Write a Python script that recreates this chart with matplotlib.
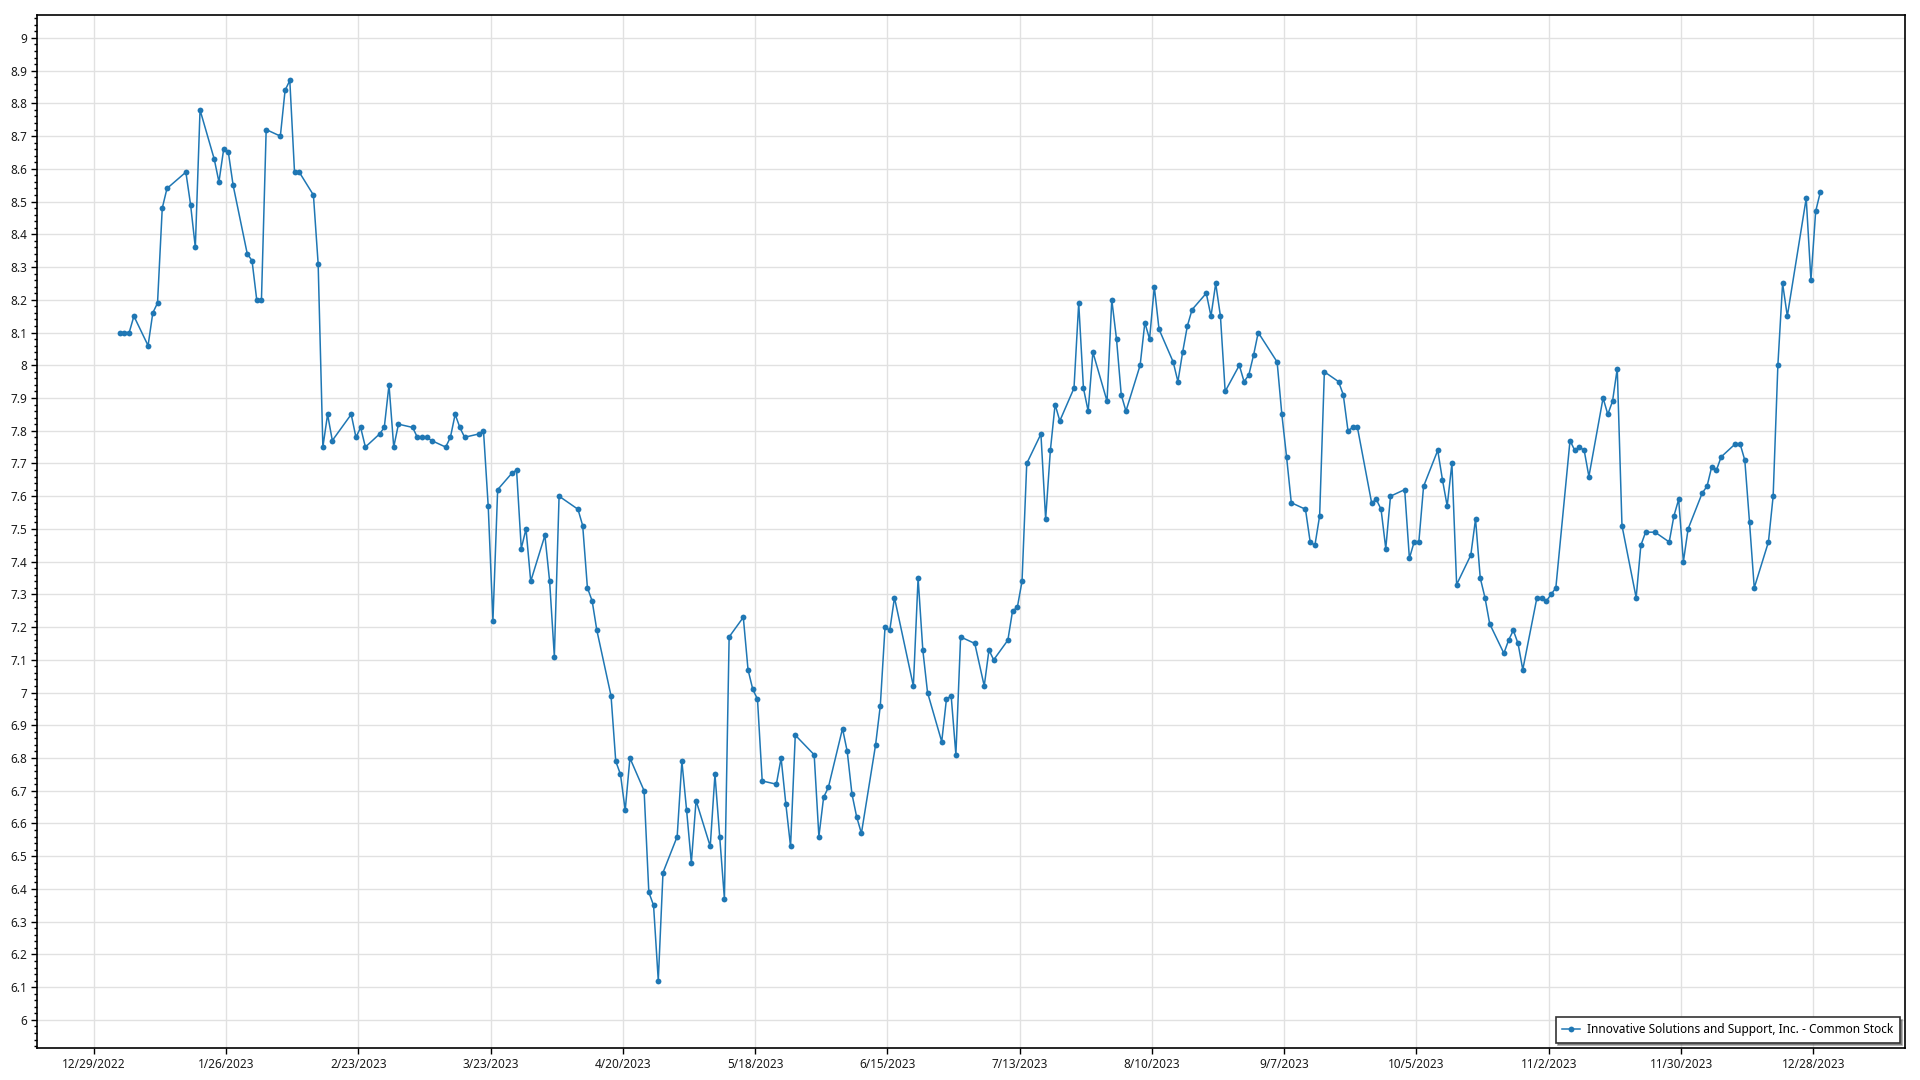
import matplotlib
matplotlib.use("Agg")
import matplotlib.pyplot as plt
from matplotlib.ticker import MultipleLocator, FuncFormatter
import numpy as np
import pandas as pd

SERIES_NAME = "Innovative Solutions and Support, Inc. - Common Stock"

# NYSE holidays 2023 (trading calendar for the x categories)
HOLIDAYS = ["2023-01-02", "2023-01-16", "2023-02-20", "2023-04-07", "2023-05-29",
            "2023-06-19", "2023-07-04", "2023-09-04", "2023-11-23", "2023-12-25"]

# Daily closing prices, one list per month
jan = [8.10, 8.10, 8.10, 8.15, 8.06, 8.16, 8.19, 8.48, 8.54, 8.59, 8.49, 8.36, 8.78,
       8.63, 8.56, 8.66, 8.65, 8.55, 8.34, 8.32]
feb = [8.20, 8.20, 8.72, 8.70, 8.84, 8.87, 8.59, 8.59, 8.52, 8.31, 7.75, 7.85, 7.77,
       7.85, 7.78, 7.81, 7.75, 7.79, 7.81]
mar = [7.94, 7.75, 7.82, 7.81, 7.78, 7.78, 7.78, 7.77, 7.75, 7.78, 7.85, 7.81, 7.78,
       7.79, 7.80, 7.57, 7.22, 7.62, 7.67, 7.68, 7.44, 7.50, 7.34]
apr = [7.48, 7.34, 7.11, 7.60, 7.56, 7.51, 7.32, 7.28, 7.19, 6.99, 6.79, 6.75, 6.64,
       6.80, 6.70, 6.39, 6.35, 6.12, 6.45]
may = [6.56, 6.79, 6.64, 6.48, 6.67, 6.53, 6.75, 6.56, 6.37, 7.17, 7.23, 7.07, 7.01,
       6.98, 6.73, 6.72, 6.80, 6.66, 6.53, 6.87, 6.81, 6.56]
jun = [6.68, 6.71, 6.89, 6.82, 6.69, 6.62, 6.57, 6.84, 6.96, 7.20, 7.19, 7.29, 7.02,
       7.35, 7.13, 7.00, 6.85, 6.98, 6.99, 6.81, 7.17]
jul = [7.15, 7.02, 7.13, 7.10, 7.16, 7.25, 7.26, 7.34, 7.70, 7.79, 7.53, 7.74, 7.88,
       7.83, 7.93, 8.19, 7.93, 7.86, 8.04, 7.89]
aug = [8.20, 8.08, 7.91, 7.86, 8.00, 8.13, 8.08, 8.24, 8.11, 8.01, 7.95, 8.04, 8.12,
       8.17, 8.22, 8.15, 8.25, 8.15, 7.92, 8.00, 7.95, 7.97, 8.03]
sep = [8.10, 8.01, 7.85, 7.72, 7.58, 7.56, 7.46, 7.45, 7.54, 7.98, 7.95, 7.91, 7.80,
       7.81, 7.81, 7.58, 7.59, 7.56, 7.44, 7.60]
oct_ = [7.62, 7.41, 7.46, 7.46, 7.63, 7.74, 7.65, 7.57, 7.70, 7.33, 7.42, 7.53, 7.35,
        7.29, 7.21, 7.12, 7.16, 7.19, 7.15, 7.07, 7.29, 7.29]
nov = [7.28, 7.30, 7.32, 7.77, 7.74, 7.75, 7.74, 7.66, 7.90, 7.85, 7.89, 7.99, 7.51,
       7.29, 7.45, 7.49, 7.49, 7.46, 7.54, 7.59, 7.40]
dec = [7.50, 7.61, 7.63, 7.69, 7.68, 7.72, 7.76, 7.76, 7.71, 7.52, 7.32, 7.46, 7.60,
       8.00, 8.25, 8.15, 8.51, 8.26, 8.47, 8.53]

x_tick_labels = ["12/29/2022", "1/26/2023", "2/23/2023", "3/23/2023", "4/20/2023",
                 "5/18/2023", "6/15/2023", "7/13/2023", "8/10/2023", "9/7/2023",
                 "10/5/2023", "11/2/2023", "11/30/2023", "12/28/2023"]

closes = np.array(jan + feb + mar + apr + may + jun + jul + aug + sep + oct_ + nov + dec)
# trading days, each stamped at midday
dates = pd.bdate_range("2023-01-03", "2023-12-29", freq="C", holidays=HOLIDAYS) + pd.Timedelta(hours=12)
n = min(len(dates), len(closes))
dates = dates[:n]
closes = closes[:n]

plt.rcParams["font.family"] = ["Noto Sans", "DejaVu Sans"]

fig = plt.figure(figsize=(19.2, 10.8), dpi=100)
ax = fig.add_axes([0.0191, 0.0296, 0.9731, 0.9568])

blue = "#1f77b4"
ax.plot(dates, closes, color=blue, linewidth=1.1, marker="o", markersize=4.2,
        markeredgewidth=0, label=SERIES_NAME, zorder=3)

ax.set_ylim(5.914, 9.071)
ax.set_xlim(pd.Timestamp("2022-12-16 22:00"), pd.Timestamp("2024-01-16 10:00"))

tick_dates = pd.to_datetime(x_tick_labels, format="%m/%d/%Y")
ax.set_xticks(tick_dates)
ax.set_xticklabels(x_tick_labels)

ax.yaxis.set_major_locator(MultipleLocator(0.1))
ax.yaxis.set_minor_locator(MultipleLocator(0.02))
ax.yaxis.set_major_formatter(FuncFormatter(lambda v, p: f"{round(v, 1):g}"))

ax.grid(True, which="major", color="#e1e1e1", linewidth=1.0, zorder=0)
ax.set_axisbelow(True)

ax.tick_params(axis="both", which="major", labelsize=8.5, length=4, width=1,
               color="black", labelcolor="#1a1a1a", pad=3)
ax.tick_params(axis="y", which="minor", length=2, width=1, color="black")
for sp in ax.spines.values():
    sp.set_color("black")
    sp.set_linewidth(1.2)

leg = ax.legend(loc="lower right", fontsize=8.5, frameon=True, fancybox=False,
                shadow=True, borderaxespad=0.45, handlelength=1.5,
                handletextpad=0.6, borderpad=0.55, framealpha=1)
leg.get_frame().set_edgecolor("#333333")
leg.get_frame().set_linewidth(1.2)

fig.savefig("out.png", dpi=100)
